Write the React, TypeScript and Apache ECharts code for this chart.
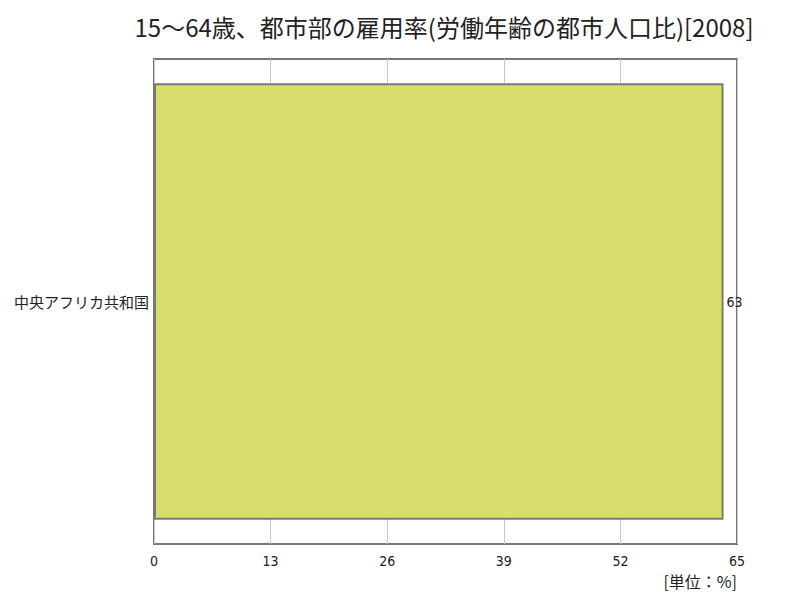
import React, { useEffect, useRef } from "react";
import * as echarts from "echarts";

const titleText = "15～64歳、都市部の雇用率(労働年齢の都市人口比)[2008]";
const categories = ["中央アフリカ共和国"];
const values = [63.5];
const unitText = "[単位：%]";
const axisMin = 0;
const axisMax = 65;
const axisInterval = 13;

export default function App() {
  const ref = useRef<HTMLDivElement>(null);
  useEffect(() => {
    if (!ref.current) return;
    const chart = echarts.init(ref.current, null, { renderer: "svg" });
    chart.setOption({
      animation: false,
      backgroundColor: "#ffffff",
      title: {
        text: titleText,
        left: 439,
        textAlign: "center",
        top: 9,
        textStyle: {
          fontFamily: "'Noto Sans CJK JP', sans-serif",
          fontSize: 24,
          fontWeight: "normal",
          color: "#222",
        },
      },
      grid: {
        left: 154,
        right: 63,
        top: 59,
        bottom: 56,
        show: true,
        borderColor: "#777",
        borderWidth: 2,
        backgroundColor: "transparent",
      },
      xAxis: {
        type: "value",
        min: axisMin,
        max: axisMax,
        interval: axisInterval,
        axisLine: { show: false },
        axisTick: { show: false },
        splitLine: { show: true, lineStyle: { color: "#c8c8c8", width: 1 } },
        axisLabel: {
          margin: 10,
          fontFamily: "'Liberation Sans Narrow', 'DejaVu Sans Condensed', sans-serif",
          fontSize: 14,
          color: "#222",
        },
      },
      yAxis: {
        type: "category",
        data: categories,
        axisLine: { show: false },
        axisTick: { show: false },
        axisLabel: {
          margin: 5,
          fontFamily: "'Noto Sans CJK JP', sans-serif",
          fontSize: 15,
          color: "#222",
        },
      },
      series: [
        {
          type: "bar",
          data: values,
          barCategoryGap: "10%",
          itemStyle: {
            color: "#d7de6e",
            borderColor: "#7c7c6c",
            borderWidth: 2,
          },
          label: {
            show: true,
            position: "right",
            distance: 3,
            fontFamily: "'Liberation Sans Narrow', 'DejaVu Sans Condensed', sans-serif",
            fontSize: 14,
            color: "#222",
            width: 20,
            overflow: "truncate",
            ellipsis: "",
          },
        },
      ],
      graphic: [
        {
          type: "text",
          right: 63,
          top: 573,
          style: {
            text: unitText,
            fontFamily: "'Noto Sans CJK JP', sans-serif",
            fontSize: 16,
            fill: "#222",
          },
        },
      ],
    });
    return () => chart.dispose();
  }, []);
  return (
    <div
      ref={ref}
      style={{ position: "fixed", left: 0, top: 0, width: 800, height: 600 }}
    />
  );
}
